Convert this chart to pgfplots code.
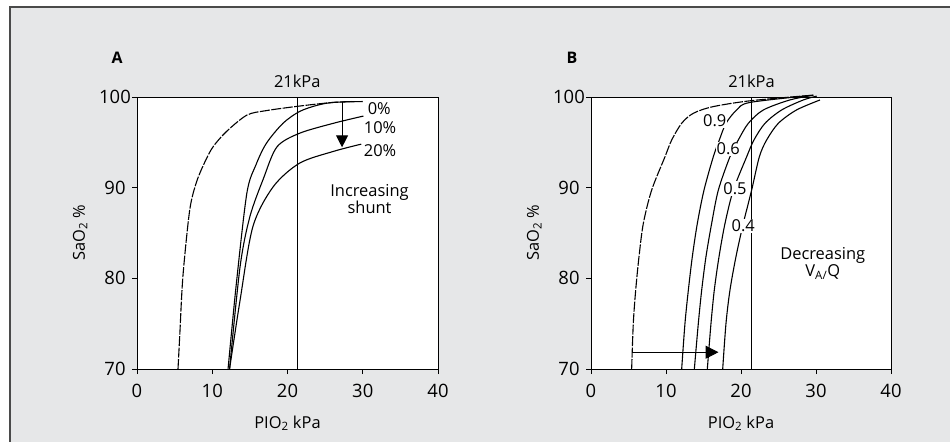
\documentclass[border=0pt]{standalone}
\usepackage{fontspec}
\setmainfont{Open Sans}
\usepackage{pgfplots}
\pgfplotsset{compat=1.18}
\usetikzlibrary{arrows.meta}

\definecolor{panelbg}{HTML}{E6E7E8}
\definecolor{framecol}{HTML}{4A4A4A}
\newcommand{\lbl}{\fontsize{16.5}{19}\selectfont}
\newcommand{\tlbl}{\fontsize{18.5}{21}\selectfont}

\pgfplotsset{
  shuntaxis/.style={
    scale only axis,
    height=272bp,
    xmin=0, xmax=40, ymin=70, ymax=100,
    xtick={0,10,20,30,40}, ytick={70,80,90,100},
    xtick pos=bottom, ytick pos=left,
    tick align=outside,
    major tick length=5bp,
    axis line style={line width=0.9bp},
    every tick/.style={black, line width=0.9bp},
    axis background/.style={fill=white},
    tick label style={font=\tlbl},
    xticklabel style={yshift=-7bp},
    yticklabel style={anchor=center, xshift=-17bp},
    /pgf/number format/assume math mode=true,
    label style={font=\lbl},
    xlabel={PIO\textsubscript{2} kPa},
    ylabel={SaO\textsubscript{2} \%},
    xlabel style={at={(axis description cs:0.5,-0.2)}, anchor=center},
    ylabel style={at={(axis description cs:-0.189,0.5)}, anchor=center, rotate=0},
    clip=false,
  },
  curve/.style={black, line width=1.1bp, smooth, tension=0.5},
  dcurve/.style={curve, dash pattern=on 10bp off 1.5bp},
}

\begin{document}
\begin{tikzpicture}
\useasboundingbox (0,0) rectangle (950bp,442bp);
\fill[panelbg] (10bp,0) rectangle (950bp,435bp);
\draw[framecol, line width=2bp] (10bp,0) -- (10bp,435bp) -- (950bp,435bp);

% Panel A: shunt
\begin{axis}[shuntaxis, width=301bp, at={(137bp,73bp)}, anchor=south west]
\addplot[dcurve] coordinates {
  (5.45,70) (5.7,74) (6.1,80.2) (7.0,87.5) (7.9,90.6) (9.0,92.8) (10.1,94.5)
  (11.9,96.2) (14.6,98.0) (17.2,98.5) (21.6,99.0) (26.0,99.4) (28.5,99.5)
};
% 0%
\addplot[curve] coordinates {
  (12.1,70) (13.2,79.4) (14.6,89.4) (15.8,92.5) (17.2,94.9) (19.4,97.1)
  (21.6,98.4) (24.0,99.1) (26.1,99.4) (30.0,99.5)
};
% 10%
\addplot[curve] coordinates {
  (12.3,70) (13.7,81.3) (15.0,86.8) (16.8,91.0) (18.6,94.5) (21.6,96.0)
  (26.1,97.1) (30.1,97.9)
};
% 20%
\addplot[curve] coordinates {
  (12.3,70) (13.7,77.6) (15.4,85.7) (18.1,90.1) (21.6,92.7) (26.1,94.0)
  (29.8,94.8)
};
\draw[black, line width=0.9bp] (axis cs:21.3,70) -- (axis cs:21.3,100);
\draw[black, line width=1bp, -{Triangle[width=12bp,length=12bp]}]
  (axis cs:27.25,99.5) -- (axis cs:27.25,94.45);
\node[font=\lbl] at (axis cs:32.2,98.75) {0\%};
\node[font=\lbl] at (axis cs:32.3,96.65) {10\%};
\node[font=\lbl] at (axis cs:32.3,94.05) {20\%};
\node[font=\lbl, align=center] at (axis cs:30.9,88.7) {Increasing\\[-2bp]shunt};
\node[font=\lbl] at ([yshift=16bp]axis cs:21.3,100) {21kPa};
\node[font=\fontsize{16}{18}\selectfont\bfseries] at ([xshift=-20bp,yshift=39bp]rel axis cs:0,1) {A};
\end{axis}

% Panel B: V/Q mismatch
\begin{axis}[shuntaxis, width=300bp, at={(591bp,73bp)}, anchor=south west]
\addplot[dcurve] coordinates {
  (5.42,70) (5.64,75.04) (5.96,78.71) (6.4,82.39) (6.98,86.07) (8.09,89.74)
  (9.87,93.42) (10.76,95.26) (12.09,97.1) (13.64,98.2) (16.3,98.94)
  (21.4,99.6) (29.6,100.2)
};
% 0.9
\addplot[curve] coordinates {
  (12.09,70) (12.53,75.04) (12.98,78.71) (13.51,82.39) (14.18,86.07)
  (15.07,89.74) (16.31,93.42) (17.11,95.26) (18.0,97.1) (19.42,98.57)
  (21.2,99.4) (29.64,100.2)
};
% 0.6
\addplot[curve] coordinates {
  (13.78,70) (14.31,75.04) (14.76,78.71) (15.33,82.39) (16.09,86.07)
  (16.98,89.74) (18.53,93.42) (19.64,95.26) (20.98,97.1) (22.98,98.57)
  (26.5,99.67) (29.64,100.2)
};
% 0.5
\addplot[curve] coordinates {
  (15.51,70) (16.0,75.04) (16.44,78.71) (17.07,82.39) (17.87,86.07)
  (18.98,89.74) (20.76,93.42) (21.73,95.26) (23.2,97.1) (25.42,98.57)
  (28.3,99.67) (30.1,100.1)
};
% 0.4
\addplot[curve] coordinates {
  (17.56,70) (18.0,75.04) (18.53,78.71) (19.33,82.39) (20.31,86.07)
  (21.42,89.74) (22.45,93.42) (23.42,95.26) (24.98,97.1) (27.4,98.57)
  (30.53,99.67)
};
\draw[black, line width=0.9bp] (axis cs:21.4,70) -- (axis cs:21.4,100);
\draw[black, line width=1bp, -{Triangle[width=13bp,length=13bp]}]
  (axis cs:5.5,71.85) -- (axis cs:17.0,71.85);
\node[font=\lbl, fill=white, inner sep=1bp] at (axis cs:16.5,97.4) {0.9};
\node[font=\lbl, fill=white, inner sep=1bp] at (axis cs:18.3,94.3) {0.6};
\node[font=\lbl, fill=white, inner sep=1bp] at (axis cs:19.2,89.9) {0.5};
\node[font=\lbl, fill=white, inner sep=1bp] at (axis cs:20.3,85.8) {0.4};
\node[font=\lbl, align=center] at (axis cs:30.9,81.6) {Decreasing\\[-2bp]V\textsubscript{A/}Q};
\node[font=\lbl] at ([yshift=16bp]axis cs:21.4,100) {21kPa};
\node[font=\fontsize{16}{18}\selectfont\bfseries] at ([xshift=-19bp,yshift=39bp]rel axis cs:0,1) {B};
\end{axis}
\end{tikzpicture}
\end{document}
